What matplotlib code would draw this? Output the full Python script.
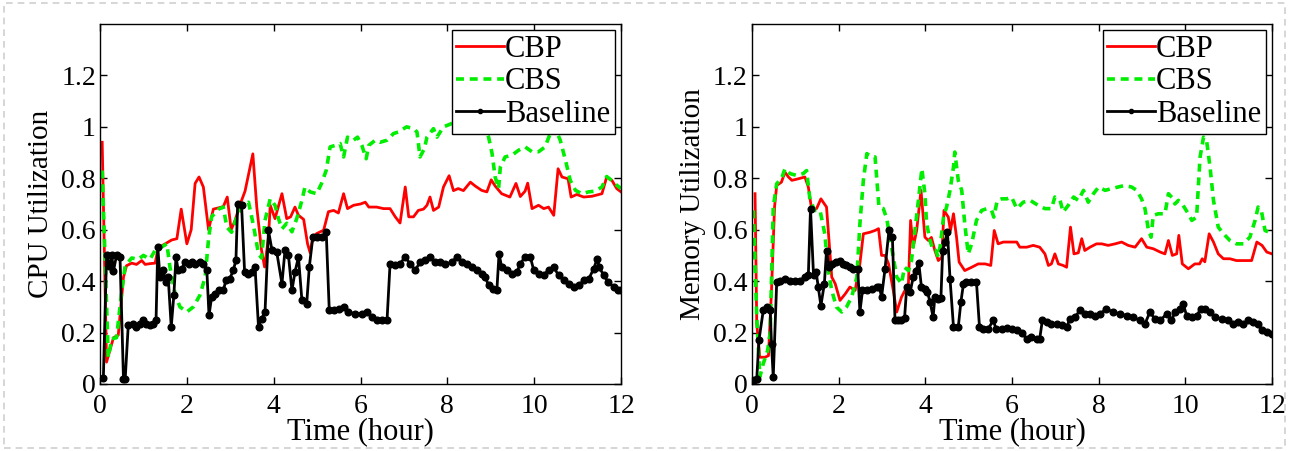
import numpy as np
import matplotlib.pyplot as plt
from matplotlib.patches import Rectangle

plt.rcParams['font.family'] = ['Liberation Serif', 'DejaVu Serif']

# ---- CPU panel data (time in hours, utilization) ----
cpu_cbp_t = [0.05, 0.15, 0.31, 0.42, 0.54, 0.61, 0.73, 0.84, 0.96, 1.04, 1.15, 1.27, 1.34, 1.5, 1.65,
             1.77, 1.87, 2.0, 2.1, 2.19, 2.28, 2.38, 2.5, 2.61, 2.73, 2.84, 2.93, 3.02, 3.11, 3.23, 3.34,
             3.52, 3.61, 3.72, 3.79, 3.88, 3.92, 4.03, 4.19, 4.3, 4.39, 4.49, 4.57, 4.69, 4.78, 4.84,
             4.9, 4.99, 5.15, 5.26, 5.38, 5.49, 5.61, 5.7, 5.84, 6.0, 6.11, 6.19, 6.37, 6.53, 6.68, 6.8,
             6.91, 7.03, 7.11, 7.22, 7.33, 7.45, 7.53, 7.6, 7.68, 7.8, 7.91, 8.04, 8.14, 8.25, 8.37,
             8.53, 8.64, 8.79, 8.91, 9.01, 9.1, 9.25, 9.44, 9.58, 9.68, 9.79, 9.85, 9.95, 10.1, 10.22,
             10.33, 10.45, 10.55, 10.64, 10.78, 10.85, 10.98, 11.14, 11.33, 11.56, 11.67, 11.79, 11.9, 12.0]
cpu_cbp_v = [0.94, 0.085, 0.18, 0.19, 0.415, 0.46, 0.47, 0.465, 0.48, 0.465, 0.468, 0.47, 0.53, 0.545, 0.56,
             0.565, 0.68, 0.545, 0.6, 0.78, 0.805, 0.766, 0.6, 0.68, 0.685, 0.69, 0.727, 0.60, 0.636, 0.70, 0.75,
             0.895, 0.688, 0.52, 0.455, 0.57, 0.695, 0.643, 0.74, 0.643, 0.65, 0.688, 0.656, 0.64, 0.545, 0.51,
             0.57, 0.585, 0.598, 0.67, 0.675, 0.665, 0.74, 0.682, 0.695, 0.70, 0.707, 0.688, 0.688, 0.682, 0.682, 0.65,
             0.626, 0.766, 0.65, 0.65, 0.675, 0.68, 0.695, 0.727, 0.675, 0.688, 0.766, 0.81, 0.752, 0.76, 0.752,
             0.785, 0.77, 0.753, 0.747, 0.794, 0.77, 0.74, 0.727, 0.78, 0.729, 0.75, 0.781, 0.682, 0.695, 0.682,
             0.688, 0.656, 0.837, 0.805, 0.798, 0.727, 0.737, 0.727, 0.73, 0.74, 0.805, 0.792, 0.76, 0.747]

cpu_cbs_t = [0.05, 0.19, 0.27, 0.38, 0.5, 0.58, 0.73, 0.88, 1.0, 1.15, 1.27, 1.42, 1.54, 1.61, 1.73, 1.84,
             2.0, 2.15, 2.3, 2.42, 2.5, 2.57, 2.73, 2.84, 2.92, 3.03, 3.15, 3.26, 3.42, 3.53, 3.65, 3.72,
             3.8, 3.92, 4.03, 4.11, 4.19, 4.3, 4.42, 4.53, 4.65, 4.72, 4.84, 4.99, 5.1, 5.21, 5.3, 5.42,
             5.53, 5.61, 5.7, 5.84, 5.93, 6.03, 6.13, 6.19, 6.34, 6.45, 6.61, 6.76, 6.87, 7.06, 7.22, 7.3,
             7.37, 7.47, 7.53, 7.68, 7.76, 7.91, 8.06, 8.3, 8.6, 8.85, 8.95, 9.03, 9.1, 9.18, 9.22, 9.33,
             9.49, 9.64, 9.79, 9.95, 10.1, 10.25, 10.37, 10.45, 10.52, 10.6, 10.72, 10.83, 10.95, 11.1,
             11.25, 11.4, 11.56, 11.67, 11.79, 11.9, 12.0]
cpu_cbs_v = [0.83, 0.104, 0.176, 0.18, 0.36, 0.46, 0.49, 0.485, 0.5, 0.485, 0.52, 0.533, 0.545, 0.455, 0.35, 0.30,
             0.28, 0.30, 0.345, 0.415, 0.565, 0.65, 0.68, 0.688, 0.61, 0.59, 0.65, 0.688, 0.707, 0.62, 0.506, 0.49,
             0.636, 0.72, 0.695, 0.643, 0.603, 0.625, 0.592, 0.643, 0.714, 0.766, 0.747, 0.74, 0.779, 0.831, 0.922, 0.928,
             0.935, 0.883, 0.96, 0.948, 0.96, 0.928, 0.876, 0.928, 0.948, 0.94, 0.948, 0.974, 0.98, 1.0, 0.993, 0.98,
             0.883, 0.915, 0.96, 0.993, 0.96, 1.0, 1.01, 1.03, 1.04, 1.0, 0.96, 0.896, 0.805, 0.76, 0.844, 0.883,
             0.89, 0.909, 0.922, 0.903, 0.903, 0.922, 0.974, 1.0, 0.98, 0.948, 0.87, 0.792, 0.753, 0.74,
             0.747, 0.75, 0.766, 0.807, 0.79, 0.773, 0.76]

cpu_base_t = [0.077, 0.15, 0.21, 0.27, 0.31, 0.38, 0.46, 0.54, 0.58, 0.65, 0.77, 0.84, 0.92, 1.0, 1.07, 1.15,
              1.22, 1.29, 1.33, 1.38, 1.46, 1.51, 1.57, 1.64, 1.7, 1.75, 1.8, 1.88, 1.96, 2.04, 2.11, 2.19,
              2.3, 2.38, 2.46, 2.51, 2.57, 2.65, 2.74, 2.84, 2.9, 2.99, 3.07, 3.13, 3.17, 3.26, 3.33, 3.4,
              3.49, 3.57, 3.65, 3.72, 3.8, 3.88, 3.96, 4.07, 4.19, 4.26, 4.34, 4.42, 4.49, 4.57, 4.65, 4.76,
              4.82, 4.9, 5.0, 5.11, 5.21, 5.28, 5.38, 5.5, 5.61, 5.72, 5.88, 6.03, 6.14, 6.26, 6.37, 6.49,
              6.61, 6.68, 6.8, 6.91, 7.03, 7.14, 7.26, 7.37, 7.49, 7.6, 7.72, 7.83, 7.95, 8.1, 8.22, 8.33,
              8.45, 8.56, 8.68, 8.79, 8.87, 8.95, 9.06, 9.14, 9.19, 9.25, 9.37, 9.49, 9.6, 9.68, 9.79, 9.91,
              9.99, 10.1, 10.22, 10.33, 10.45, 10.56, 10.68, 10.79, 10.91, 11.03, 11.14, 11.26, 11.37, 11.45,
              11.5, 11.6, 11.71, 11.83, 11.94, 12.0]
cpu_base_v = [0.024, 0.5, 0.46, 0.5, 0.44, 0.5, 0.495, 0.02, 0.02, 0.228, 0.234, 0.222, 0.234, 0.247, 0.234, 0.228,
              0.234, 0.247, 0.533, 0.416, 0.442, 0.397, 0.416, 0.222, 0.345, 0.494, 0.442, 0.448, 0.474, 0.468, 0.474, 0.468,
              0.474, 0.468, 0.442, 0.267, 0.338, 0.35, 0.364, 0.364, 0.403, 0.41, 0.442, 0.481, 0.7, 0.695, 0.435, 0.429,
              0.435, 0.455, 0.222, 0.254, 0.28, 0.597, 0.52, 0.513, 0.39, 0.52, 0.5, 0.364, 0.435, 0.494, 0.325, 0.312,
              0.455, 0.57, 0.57, 0.57, 0.59, 0.286, 0.286, 0.29, 0.299, 0.28, 0.273, 0.273, 0.28, 0.26, 0.25, 0.247,
              0.247, 0.468, 0.461, 0.468, 0.494, 0.468, 0.442, 0.474, 0.481, 0.494, 0.474, 0.474, 0.465, 0.474, 0.494, 0.474,
              0.468, 0.455, 0.442, 0.429, 0.416, 0.384, 0.371, 0.364, 0.507, 0.455, 0.442, 0.429, 0.435, 0.468, 0.494, 0.494,
              0.442, 0.429, 0.425, 0.442, 0.455, 0.422, 0.403, 0.39, 0.377, 0.384, 0.403, 0.41, 0.448, 0.487,
              0.455, 0.422, 0.396, 0.377, 0.364, 0.364]

# ---- Memory panel data ----
mem_cbp_t = [0.07, 0.11, 0.18, 0.3, 0.38, 0.45, 0.52, 0.57, 0.68, 0.76, 0.84, 0.92, 1.07, 1.22, 1.3, 1.38,
             1.49, 1.59, 1.72, 1.8, 1.84, 1.92, 2.03, 2.15, 2.26, 2.38, 2.49, 2.57, 2.72, 2.84, 2.92, 2.99,
             3.07, 3.15, 3.26, 3.34, 3.45, 3.61, 3.66, 3.72, 3.8, 3.9, 3.99, 4.07, 4.14, 4.22, 4.3, 4.38,
             4.43, 4.53, 4.58, 4.65, 4.72, 4.78, 4.91, 5.07, 5.22, 5.38, 5.51, 5.59, 5.68, 5.8, 5.95, 6.11,
             6.18, 6.34, 6.49, 6.64, 6.76, 6.84, 6.91, 6.99, 7.07, 7.18, 7.26, 7.35, 7.43, 7.53, 7.61, 7.68,
             7.8, 7.95, 8.07, 8.22, 8.38, 8.53, 8.68, 8.84, 8.99, 9.11, 9.26, 9.42, 9.53, 9.61, 9.7, 9.8,
             9.85, 9.93, 10.07, 10.22, 10.33, 10.39, 10.45, 10.55, 10.65, 10.76, 10.88, 11.03, 11.18, 11.34,
             11.53, 11.65, 11.77, 11.88, 12.0]
mem_cbp_v = [0.74, 0.234, 0.104, 0.104, 0.11, 0.364, 0.688, 0.772, 0.785, 0.824, 0.805, 0.792, 0.798, 0.805, 0.766, 0.675,
             0.682, 0.72, 0.688, 0.506, 0.416, 0.39, 0.325, 0.35, 0.377, 0.364, 0.468, 0.584, 0.59, 0.597, 0.604, 0.5,
             0.5, 0.468, 0.364, 0.28, 0.338, 0.39, 0.636, 0.532, 0.597, 0.753, 0.571, 0.558, 0.57, 0.519, 0.48, 0.493,
             0.675, 0.649, 0.597, 0.662, 0.571, 0.474, 0.441, 0.454, 0.467, 0.467, 0.461, 0.597, 0.545, 0.552, 0.552, 0.552,
             0.532, 0.532, 0.539, 0.532, 0.506, 0.461, 0.467, 0.506, 0.467, 0.461, 0.454, 0.61, 0.506, 0.51, 0.565, 0.519,
             0.532, 0.545, 0.545, 0.539, 0.545, 0.552, 0.539, 0.532, 0.565, 0.532, 0.526, 0.513, 0.506, 0.558, 0.5, 0.506,
             0.578, 0.467, 0.448, 0.467, 0.467, 0.487, 0.475, 0.584, 0.552, 0.506, 0.487, 0.487, 0.48, 0.48,
             0.48, 0.552, 0.539, 0.513, 0.506]

mem_cbs_t = [0.03, 0.11, 0.18, 0.26, 0.36, 0.42, 0.49, 0.57, 0.68, 0.76, 0.88, 1.03, 1.18, 1.26, 1.34, 1.45,
             1.57, 1.68, 1.76, 1.84, 1.95, 2.07, 2.18, 2.3, 2.42, 2.49, 2.57, 2.65, 2.76, 2.84, 2.9, 2.93,
             3.03, 3.11, 3.22, 3.34, 3.45, 3.52, 3.61, 3.68, 3.76, 3.84, 3.92, 3.99, 4.03, 4.11, 4.18, 4.24,
             4.3, 4.35, 4.42, 4.49, 4.57, 4.65, 4.68, 4.76, 4.84, 4.91, 4.99, 5.07, 5.18, 5.3, 5.42, 5.53,
             5.58, 5.66, 5.76, 5.88, 5.99, 6.11, 6.26, 6.42, 6.61, 6.76, 6.91, 6.99, 7.11, 7.18, 7.3, 7.42,
             7.53, 7.65, 7.76, 7.88, 8.0, 8.15, 8.3, 8.45, 8.6, 8.76, 8.88, 8.99, 9.07, 9.15, 9.21, 9.26,
             9.38, 9.53, 9.61, 9.72, 9.76, 9.84, 9.95, 10.07, 10.15, 10.26, 10.34, 10.42, 10.49, 10.57, 10.65,
             10.76, 10.88, 11.03, 11.18, 11.34, 11.49, 11.61, 11.68, 11.76, 11.84, 11.92, 12.0]
mem_cbs_v = [0.675, 0.26, 0.027, 0.079, 0.13, 0.2, 0.688, 0.779, 0.798, 0.837, 0.818, 0.811, 0.818, 0.83, 0.714, 0.675,
             0.675, 0.584, 0.441, 0.364, 0.299, 0.28, 0.299, 0.338, 0.416, 0.623, 0.792, 0.896, 0.883, 0.883, 0.753, 0.688,
             0.682, 0.643, 0.532, 0.416, 0.39, 0.454, 0.441, 0.48, 0.597, 0.714, 0.837, 0.74, 0.623, 0.558, 0.519, 0.52,
             0.493, 0.545, 0.649, 0.688, 0.753, 0.844, 0.902, 0.792, 0.753, 0.623, 0.506, 0.545, 0.636, 0.675, 0.682, 0.675,
             0.649, 0.714, 0.72, 0.72, 0.727, 0.682, 0.707, 0.714, 0.694, 0.682, 0.682, 0.727, 0.714, 0.669, 0.695, 0.727,
             0.714, 0.753, 0.707, 0.74, 0.766, 0.753, 0.76, 0.766, 0.772, 0.766, 0.753, 0.72, 0.681, 0.597, 0.571, 0.656,
             0.662, 0.662, 0.74, 0.72, 0.7, 0.714, 0.694, 0.662, 0.636, 0.649, 0.882, 0.96, 0.948, 0.844, 0.714,
             0.61, 0.584, 0.558, 0.545, 0.545, 0.571, 0.636, 0.688, 0.669, 0.597, 0.591, 0.591]

mem_base_t = [0.05, 0.11, 0.16, 0.26, 0.34, 0.42, 0.45, 0.49, 0.57, 0.65, 0.76, 0.88, 0.99, 1.1, 1.22, 1.3,
              1.35, 1.42, 1.48, 1.53, 1.59, 1.67, 1.72, 1.78, 1.85, 1.95, 2.03, 2.1, 2.18, 2.26, 2.34, 2.44,
              2.49, 2.55, 2.65, 2.76, 2.88, 2.94, 2.99, 3.07, 3.16, 3.24, 3.3, 3.38, 3.45, 3.52, 3.57, 3.65,
              3.72, 3.78, 3.85, 3.91, 3.99, 4.05, 4.11, 4.18, 4.22, 4.3, 4.36, 4.4, 4.45, 4.51, 4.57, 4.65,
              4.76, 4.82, 4.88, 4.95, 5.06, 5.18, 5.25, 5.34, 5.45, 5.57, 5.63, 5.76, 5.88, 5.99, 6.11, 6.22,
              6.34, 6.45, 6.57, 6.64, 6.7, 6.8, 6.91, 7.03, 7.15, 7.26, 7.34, 7.45, 7.57, 7.68, 7.8, 7.92,
              8.03, 8.18, 8.34, 8.49, 8.65, 8.8, 8.95, 9.07, 9.18, 9.3, 9.42, 9.57, 9.68, 9.76, 9.88, 9.95,
              10.03, 10.15, 10.26, 10.36, 10.45, 10.57, 10.68, 10.84, 10.99, 11.1, 11.22, 11.34, 11.45, 11.57,
              11.68, 11.76, 11.88, 12.0]
mem_base_v = [0.014, 0.02, 0.17, 0.286, 0.299, 0.286, 0.156, 0.027, 0.396, 0.4, 0.409, 0.4, 0.4, 0.4, 0.416, 0.422,
              0.682, 0.422, 0.435, 0.377, 0.305, 0.39, 0.519, 0.454, 0.467, 0.474, 0.48, 0.468, 0.461, 0.455, 0.448, 0.448,
              0.28, 0.364, 0.364, 0.37, 0.377, 0.377, 0.338, 0.448, 0.597, 0.571, 0.25, 0.248, 0.248, 0.255, 0.377, 0.357,
              0.416, 0.44, 0.47, 0.377, 0.37, 0.357, 0.318, 0.26, 0.338, 0.331, 0.335, 0.519, 0.552, 0.591, 0.409, 0.221,
              0.221, 0.318, 0.39, 0.396, 0.396, 0.396, 0.221, 0.215, 0.215, 0.247, 0.215, 0.215, 0.218, 0.215, 0.21, 0.198,
              0.176, 0.182, 0.176, 0.176, 0.247, 0.24, 0.234, 0.234, 0.228, 0.221, 0.254, 0.26, 0.286, 0.273, 0.273, 0.266,
              0.273, 0.292, 0.279, 0.273, 0.266, 0.26, 0.247, 0.234, 0.279, 0.253, 0.247, 0.273, 0.247, 0.279, 0.292, 0.312,
              0.266, 0.26, 0.266, 0.292, 0.292, 0.279, 0.26, 0.253, 0.247, 0.234, 0.24, 0.234, 0.247, 0.24,
              0.234, 0.208, 0.202, 0.195]

x_ticks = [0, 2, 4, 6, 8, 10, 12]
y_ticks = [0, 0.2, 0.4, 0.6, 0.8, 1.0, 1.2]
y_tick_labels = ['0', '0.2', '0.4', '0.6', '0.8', '1', '1.2']


def draw_panel(ax, cbp_t, cbp_v, cbs_t, cbs_v, base_t, base_v, ylabel):
    ax.plot(cbp_t, cbp_v, color='#ff0000', lw=2.0, label='CBP')
    ax.plot(cbs_t, cbs_v, color='#00ee00', lw=2.6, ls=(0, (2.2, 1.6)), label='CBS')
    ax.plot(base_t, base_v, color='black', lw=2.0, marker='o', ms=4.8, label='Baseline')
    ax.set_xlim(0, 12)
    ax.set_ylim(0, 1.4)
    ax.set_xticks(x_ticks)
    ax.set_yticks(y_ticks)
    ax.set_yticklabels(y_tick_labels)
    ax.tick_params(axis='both', direction='in', length=5, width=1, top=True, right=True,
                   labelsize=20)
    ax.tick_params(axis='x', pad=7)
    ax.tick_params(axis='y', pad=3)
    ax.set_xlabel('Time (hour)', fontsize=22, labelpad=-1)
    ax.set_ylabel(ylabel, fontsize=21, labelpad=5)
    for s in ax.spines.values():
        s.set_linewidth(1.0)
    leg = ax.legend(loc='upper right', fontsize=22, frameon=True, fancybox=False,
                    edgecolor='black', framealpha=1, borderpad=0.15, labelspacing=0.12,
                    handlelength=1.55, handletextpad=0.05, borderaxespad=0.2)
    leg.get_frame().set_linewidth(1.0)
    for h in leg.legend_handles:
        h.set_markersize(3)


fig = plt.figure(figsize=(12.89, 4.51), dpi=100)
ax1 = fig.add_axes([0.0776, 0.1486, 0.4042, 0.7982])
ax2 = fig.add_axes([0.5834, 0.1486, 0.4034, 0.7982])

draw_panel(ax1, cpu_cbp_t, cpu_cbp_v, cpu_cbs_t, cpu_cbs_v, cpu_base_t, cpu_base_v, 'CPU Utilization')
draw_panel(ax2, mem_cbp_t, mem_cbp_v, mem_cbs_t, mem_cbs_v, mem_base_t, mem_base_v, 'Memory Utilization')

# dashed slide frame around the picture
fig.patches.append(Rectangle((0.003, 0.006), 0.994, 0.988, transform=fig.transFigure,
                             fill=False, edgecolor='#d0d0d0', lw=1.2, ls=(0, (4, 3))))

fig.savefig('out.png', dpi=100)
